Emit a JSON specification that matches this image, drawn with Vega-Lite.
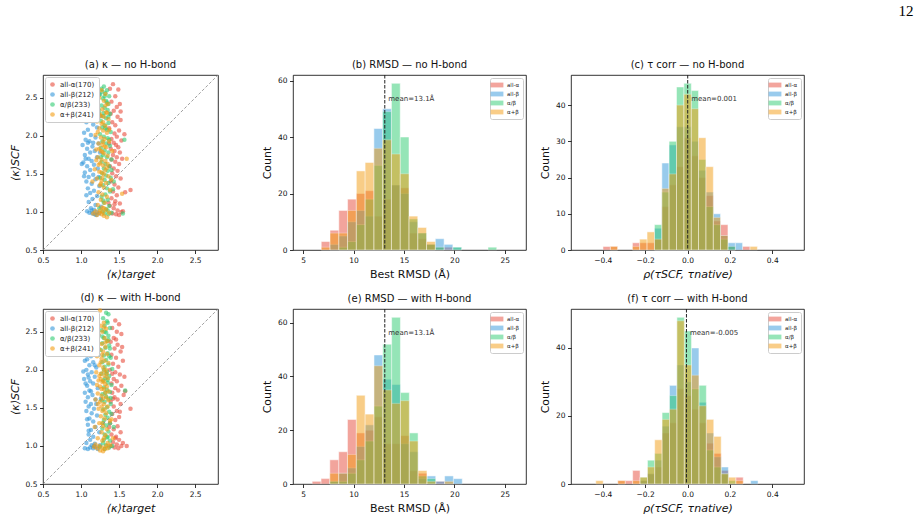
{
  "$schema": "https://vega.github.io/schema/vega-lite/v6.json",
  "padding": {"left": 8, "top": 4, "right": 5, "bottom": 3},
  "title": {"text": "12", "anchor": "end", "font": "Liberation Serif", "fontSize": 15, "fontWeight": "normal", "color": "black", "dx": 109, "offset": 40},
  "config": {
    "font": "DejaVu Sans",
    "background": "white",
    "view": {"stroke": "black", "strokeWidth": 0.8},
    "axis": {"grid": false, "domain": false, "tickColor": "black", "tickWidth": 0.8, "tickSize": 3.5, "labelFont": "DejaVu Sans", "labelFontSize": 7.5, "labelColor": "#111", "labelPadding": 2.5, "labelFlush": false, "labelOverlap": false, "titleFont": "DejaVu Sans", "titleFontSize": 11, "titleFontWeight": "normal", "titleColor": "#111", "titlePadding": 5},
    "title": {"font": "DejaVu Sans", "fontSize": 10, "fontWeight": "normal", "color": "#111", "offset": 5},
    "legend": {"labelFont": "DejaVu Sans", "labelColor": "#222"}
  },
  "datasets": {
    "ar": [{"x":1.42,"y":2.68},{"x":1.38,"y":2.62},{"x":1.49,"y":2.61},{"x":1.45,"y":2.52},{"x":1.4,"y":2.45},{"x":1.51,"y":2.42},{"x":1.47,"y":2.38},{"x":1.43,"y":2.33},{"x":1.39,"y":2.29},{"x":1.48,"y":2.25},{"x":1.52,"y":2.21},{"x":1.41,"y":2.18},{"x":1.45,"y":2.14},{"x":1.37,"y":2.1},{"x":1.5,"y":2.07},{"x":1.44,"y":2.03},{"x":1.47,"y":1.99},{"x":1.4,"y":1.96},{"x":1.53,"y":1.94},{"x":1.43,"y":1.91},{"x":1.46,"y":1.88},{"x":1.49,"y":1.85},{"x":1.39,"y":1.83},{"x":1.44,"y":1.8},{"x":1.51,"y":1.78},{"x":1.42,"y":1.75},{"x":1.47,"y":1.72},{"x":1.4,"y":1.69},{"x":1.45,"y":1.66},{"x":1.5,"y":1.63},{"x":1.38,"y":1.6},{"x":1.43,"y":1.57},{"x":1.48,"y":1.54},{"x":1.41,"y":1.51},{"x":1.46,"y":1.47},{"x":1.52,"y":1.44},{"x":1.39,"y":1.4},{"x":1.44,"y":1.36},{"x":1.49,"y":1.32},{"x":1.65,"y":1.29},{"x":1.42,"y":1.27},{"x":1.47,"y":1.22},{"x":1.4,"y":1.18},{"x":1.45,"y":1.14},{"x":1.51,"y":1.11},{"x":1.38,"y":1.08},{"x":1.43,"y":1.05},{"x":1.48,"y":1.02},{"x":1.53,"y":1.0},{"x":1.41,"y":0.98},{"x":1.46,"y":0.97},{"x":1.5,"y":0.96},{"x":1.55,"y":1.01},{"x":1.36,"y":1.12},{"x":1.57,"y":2.02},{"x":1.54,"y":1.7},{"x":1.58,"y":1.26},{"x":1.37,"y":1.9},{"x":1.52,"y":2.32},{"x":1.44,"y":1.1}],
    "ab": [{"x":1.2,"y":2.66},{"x":1.16,"y":2.6},{"x":1.24,"y":2.55},{"x":1.13,"y":2.5},{"x":1.19,"y":2.46},{"x":1.22,"y":2.41},{"x":1.15,"y":2.37},{"x":1.1,"y":2.33},{"x":1.18,"y":2.3},{"x":1.25,"y":2.26},{"x":1.12,"y":2.22},{"x":1.07,"y":2.18},{"x":1.16,"y":2.15},{"x":1.21,"y":2.11},{"x":1.09,"y":2.08},{"x":1.04,"y":2.04},{"x":1.13,"y":2.01},{"x":1.19,"y":1.98},{"x":1.06,"y":1.95},{"x":1.11,"y":1.93},{"x":1.23,"y":1.9},{"x":1.02,"y":1.88},{"x":1.15,"y":1.86},{"x":1.08,"y":1.83},{"x":1.18,"y":1.8},{"x":1.12,"y":1.78},{"x":1.05,"y":1.75},{"x":1.21,"y":1.72},{"x":1.1,"y":1.7},{"x":1.14,"y":1.67},{"x":1.03,"y":1.65},{"x":1.17,"y":1.62},{"x":1.08,"y":1.6},{"x":1.22,"y":1.57},{"x":1.12,"y":1.55},{"x":1.05,"y":1.52},{"x":1.16,"y":1.49},{"x":1.1,"y":1.46},{"x":1.19,"y":1.43},{"x":1.07,"y":1.4},{"x":1.14,"y":1.37},{"x":1.24,"y":1.34},{"x":1.09,"y":1.31},{"x":1.17,"y":1.28},{"x":1.12,"y":1.25},{"x":1.21,"y":1.21},{"x":1.15,"y":1.17},{"x":1.1,"y":1.13},{"x":1.19,"y":1.09},{"x":1.13,"y":1.05},{"x":1.08,"y":1.01},{"x":1.11,"y":0.99},{"x":1.15,"y":0.98},{"x":1.18,"y":0.97},{"x":1.21,"y":1.0},{"x":1.24,"y":0.98},{"x":1.14,"y":1.02},{"x":1.17,"y":1.03},{"x":1.2,"y":0.96},{"x":1.26,"y":1.07},{"x":1.01,"y":1.63},{"x":1.04,"y":1.47},{"x":1.06,"y":1.7},{"x":1.09,"y":1.91},{"x":1.13,"y":2.4},{"x":1.18,"y":2.52},{"x":1.23,"y":1.46},{"x":1.25,"y":1.78},{"x":1.07,"y":1.22},{"x":1.16,"y":1.91}],
    "ag": [{"x":1.3,"y":2.65},{"x":1.27,"y":2.62},{"x":1.34,"y":2.6},{"x":1.32,"y":2.56},{"x":1.25,"y":2.54},{"x":1.37,"y":2.52},{"x":1.29,"y":2.49},{"x":1.33,"y":2.46},{"x":1.36,"y":2.42},{"x":1.27,"y":2.4},{"x":1.31,"y":2.37},{"x":1.35,"y":2.34},{"x":1.24,"y":2.31},{"x":1.38,"y":2.29},{"x":1.29,"y":2.26},{"x":1.33,"y":2.23},{"x":1.26,"y":2.2},{"x":1.36,"y":2.17},{"x":1.31,"y":2.14},{"x":1.28,"y":2.11},{"x":1.34,"y":2.08},{"x":1.39,"y":2.05},{"x":1.25,"y":2.02},{"x":1.3,"y":1.99},{"x":1.35,"y":1.97},{"x":1.57,"y":1.95},{"x":1.28,"y":1.93},{"x":1.33,"y":1.9},{"x":1.38,"y":1.87},{"x":1.26,"y":1.84},{"x":1.31,"y":1.81},{"x":1.36,"y":1.78},{"x":1.29,"y":1.75},{"x":1.34,"y":1.72},{"x":1.4,"y":1.69},{"x":1.27,"y":1.66},{"x":1.32,"y":1.63},{"x":1.37,"y":1.6},{"x":1.3,"y":1.57},{"x":1.35,"y":1.54},{"x":1.28,"y":1.51},{"x":1.33,"y":1.48},{"x":1.39,"y":1.45},{"x":1.31,"y":1.42},{"x":1.36,"y":1.38},{"x":1.29,"y":1.35},{"x":1.34,"y":1.31},{"x":1.38,"y":1.27},{"x":1.32,"y":1.23},{"x":1.27,"y":1.2},{"x":1.35,"y":1.16},{"x":1.3,"y":1.12},{"x":1.37,"y":1.08},{"x":1.33,"y":1.04},{"x":1.28,"y":1.01},{"x":1.31,"y":0.98},{"x":1.36,"y":0.97},{"x":1.4,"y":0.99},{"x":1.55,"y":0.98},{"x":1.25,"y":1.45},{"x":1.42,"y":1.3},{"x":1.23,"y":2.35},{"x":1.3,"y":2.3},{"x":1.34,"y":2.44},{"x":1.28,"y":2.58},{"x":1.32,"y":2.1},{"x":1.37,"y":1.95},{"x":1.26,"y":1.72},{"x":1.4,"y":1.55},{"x":1.43,"y":1.4},{"x":1.29,"y":1.15},{"x":1.35,"y":1.02},{"x":1.24,"y":1.05},{"x":1.31,"y":2.52},{"x":1.36,"y":2.25}],
    "ao": [{"x":1.27,"y":2.6},{"x":1.32,"y":2.55},{"x":1.24,"y":2.5},{"x":1.3,"y":2.46},{"x":1.35,"y":2.42},{"x":1.22,"y":2.38},{"x":1.28,"y":2.35},{"x":1.33,"y":2.31},{"x":1.25,"y":2.28},{"x":1.3,"y":2.25},{"x":1.36,"y":2.22},{"x":1.21,"y":2.19},{"x":1.27,"y":2.16},{"x":1.32,"y":2.13},{"x":1.24,"y":2.1},{"x":1.29,"y":2.07},{"x":1.34,"y":2.04},{"x":1.19,"y":2.01},{"x":1.26,"y":1.98},{"x":1.31,"y":1.96},{"x":1.37,"y":1.93},{"x":1.23,"y":1.9},{"x":1.28,"y":1.88},{"x":1.33,"y":1.85},{"x":1.2,"y":1.82},{"x":1.26,"y":1.8},{"x":1.3,"y":1.77},{"x":1.35,"y":1.74},{"x":1.22,"y":1.72},{"x":1.27,"y":1.69},{"x":1.32,"y":1.67},{"x":1.6,"y":1.7},{"x":1.25,"y":1.64},{"x":1.29,"y":1.61},{"x":1.34,"y":1.58},{"x":1.18,"y":1.56},{"x":1.24,"y":1.53},{"x":1.3,"y":1.5},{"x":1.36,"y":1.47},{"x":1.21,"y":1.44},{"x":1.27,"y":1.41},{"x":1.33,"y":1.38},{"x":1.25,"y":1.35},{"x":1.3,"y":1.32},{"x":1.38,"y":1.29},{"x":1.23,"y":1.26},{"x":1.28,"y":1.23},{"x":1.54,"y":1.24},{"x":1.34,"y":1.2},{"x":1.26,"y":1.16},{"x":1.31,"y":1.12},{"x":1.22,"y":1.09},{"x":1.28,"y":1.06},{"x":1.33,"y":1.03},{"x":1.19,"y":1.01},{"x":1.24,"y":0.99},{"x":1.27,"y":0.97},{"x":1.3,"y":0.95},{"x":1.34,"y":0.93},{"x":1.21,"y":0.96},{"x":1.37,"y":0.99},{"x":1.25,"y":1.02},{"x":1.29,"y":1.0},{"x":1.16,"y":0.98},{"x":1.32,"y":2.4},{"x":1.26,"y":2.26},{"x":1.29,"y":1.92},{"x":1.24,"y":1.83},{"x":1.31,"y":1.86},{"x":1.28,"y":1.79},{"x":1.23,"y":1.62},{"x":1.32,"y":1.55},{"x":1.27,"y":1.52},{"x":1.35,"y":1.63},{"x":1.2,"y":1.68},{"x":1.29,"y":2.18},{"x":1.34,"y":2.3},{"x":1.22,"y":2.05},{"x":1.37,"y":2.08},{"x":1.28,"y":1.45},{"x":1.26,"y":1.37},{"x":1.4,"y":1.42},{"x":1.3,"y":1.05},{"x":1.15,"y":1.4},{"x":1.41,"y":1.8}],
    "dr": [{"x":1.45,"y":2.65},{"x":1.5,"y":2.6},{"x":1.41,"y":2.55},{"x":1.47,"y":2.5},{"x":1.53,"y":2.47},{"x":1.43,"y":2.42},{"x":1.39,"y":2.37},{"x":1.48,"y":2.33},{"x":1.44,"y":2.28},{"x":1.52,"y":2.24},{"x":1.4,"y":2.2},{"x":1.46,"y":2.16},{"x":1.55,"y":2.12},{"x":1.42,"y":2.08},{"x":1.49,"y":2.04},{"x":1.38,"y":2.0},{"x":1.45,"y":1.97},{"x":1.51,"y":1.94},{"x":1.57,"y":1.91},{"x":1.43,"y":1.88},{"x":1.47,"y":1.85},{"x":1.4,"y":1.82},{"x":1.53,"y":1.79},{"x":1.45,"y":1.76},{"x":1.49,"y":1.73},{"x":1.41,"y":1.7},{"x":1.56,"y":1.67},{"x":1.44,"y":1.64},{"x":1.48,"y":1.61},{"x":1.39,"y":1.58},{"x":1.52,"y":1.55},{"x":1.65,"y":1.49},{"x":1.43,"y":1.52},{"x":1.47,"y":1.46},{"x":1.41,"y":1.42},{"x":1.5,"y":1.38},{"x":1.45,"y":1.34},{"x":1.38,"y":1.3},{"x":1.48,"y":1.26},{"x":1.43,"y":1.22},{"x":1.52,"y":1.18},{"x":1.4,"y":1.15},{"x":1.46,"y":1.12},{"x":1.5,"y":1.08},{"x":1.42,"y":1.05},{"x":1.47,"y":1.02},{"x":1.53,"y":1.0},{"x":1.6,"y":1.0},{"x":1.44,"y":0.98},{"x":1.49,"y":0.97},{"x":1.39,"y":1.0},{"x":1.55,"y":1.04},{"x":1.41,"y":1.95},{"x":1.54,"y":2.3},{"x":1.46,"y":2.4},{"x":1.58,"y":1.72},{"x":1.37,"y":1.25},{"x":1.51,"y":1.45},{"x":1.45,"y":1.1},{"x":1.42,"y":1.62}],
    "db": [{"x":1.17,"y":2.66},{"x":1.21,"y":2.6},{"x":1.14,"y":2.55},{"x":1.19,"y":2.5},{"x":1.23,"y":2.46},{"x":1.12,"y":2.42},{"x":1.17,"y":2.38},{"x":1.21,"y":2.34},{"x":1.15,"y":2.3},{"x":1.1,"y":2.26},{"x":1.19,"y":2.22},{"x":1.13,"y":2.18},{"x":1.08,"y":2.14},{"x":1.05,"y":2.12},{"x":1.16,"y":2.1},{"x":1.11,"y":2.06},{"x":1.2,"y":2.03},{"x":1.07,"y":2.0},{"x":1.14,"y":1.97},{"x":1.09,"y":1.94},{"x":1.18,"y":1.91},{"x":1.04,"y":1.88},{"x":1.12,"y":1.85},{"x":1.16,"y":1.82},{"x":1.08,"y":1.79},{"x":1.22,"y":1.76},{"x":1.11,"y":1.73},{"x":1.05,"y":1.7},{"x":1.15,"y":1.67},{"x":1.09,"y":1.64},{"x":1.19,"y":1.61},{"x":1.06,"y":1.58},{"x":1.13,"y":1.55},{"x":1.1,"y":1.52},{"x":1.17,"y":1.49},{"x":1.07,"y":1.46},{"x":1.14,"y":1.43},{"x":1.21,"y":1.4},{"x":1.11,"y":1.36},{"x":1.16,"y":1.32},{"x":1.09,"y":1.28},{"x":1.19,"y":1.25},{"x":1.13,"y":1.21},{"x":1.24,"y":1.18},{"x":1.1,"y":1.15},{"x":1.16,"y":1.12},{"x":1.12,"y":1.08},{"x":1.07,"y":1.04},{"x":1.14,"y":1.01},{"x":1.05,"y":0.97},{"x":1.09,"y":0.96},{"x":1.12,"y":0.98},{"x":1.16,"y":0.97},{"x":1.19,"y":0.99},{"x":1.22,"y":0.96},{"x":1.25,"y":1.01},{"x":1.18,"y":1.03},{"x":1.1,"y":1.2},{"x":1.13,"y":1.72},{"x":1.06,"y":1.82},{"x":1.18,"y":2.06},{"x":1.1,"y":1.9},{"x":1.2,"y":1.55},{"x":1.15,"y":2.45},{"x":1.23,"y":2.2},{"x":1.08,"y":1.35},{"x":1.26,"y":1.62},{"x":1.03,"y":1.98},{"x":1.12,"y":2.28},{"x":1.17,"y":1.0}],
    "dg": [{"x":1.33,"y":2.75},{"x":1.36,"y":2.73},{"x":1.29,"y":2.68},{"x":1.35,"y":2.62},{"x":1.31,"y":2.58},{"x":1.38,"y":2.55},{"x":1.27,"y":2.52},{"x":1.33,"y":2.49},{"x":1.36,"y":2.45},{"x":1.3,"y":2.42},{"x":1.34,"y":2.38},{"x":1.28,"y":2.35},{"x":1.37,"y":2.32},{"x":1.32,"y":2.29},{"x":1.26,"y":2.26},{"x":1.35,"y":2.22},{"x":1.3,"y":2.19},{"x":1.39,"y":2.16},{"x":1.33,"y":2.13},{"x":1.28,"y":2.1},{"x":1.36,"y":2.07},{"x":1.31,"y":2.04},{"x":1.41,"y":2.01},{"x":1.34,"y":1.98},{"x":1.27,"y":1.95},{"x":1.37,"y":1.92},{"x":1.32,"y":1.89},{"x":1.29,"y":1.86},{"x":1.35,"y":1.83},{"x":1.4,"y":1.8},{"x":1.3,"y":1.77},{"x":1.58,"y":1.73},{"x":1.34,"y":1.74},{"x":1.38,"y":1.71},{"x":1.28,"y":1.68},{"x":1.33,"y":1.65},{"x":1.36,"y":1.62},{"x":1.31,"y":1.58},{"x":1.39,"y":1.55},{"x":1.34,"y":1.51},{"x":1.29,"y":1.48},{"x":1.37,"y":1.45},{"x":1.32,"y":1.41},{"x":1.35,"y":1.37},{"x":1.3,"y":1.34},{"x":1.38,"y":1.3},{"x":1.33,"y":1.27},{"x":1.28,"y":1.23},{"x":1.36,"y":1.19},{"x":1.31,"y":1.15},{"x":1.34,"y":1.11},{"x":1.38,"y":1.07},{"x":1.29,"y":1.04},{"x":1.33,"y":1.01},{"x":1.37,"y":0.98},{"x":1.31,"y":0.96},{"x":1.41,"y":1.0},{"x":1.25,"y":0.99},{"x":1.36,"y":2.4},{"x":1.31,"y":2.5},{"x":1.38,"y":2.28},{"x":1.3,"y":2.0},{"x":1.35,"y":1.87},{"x":1.32,"y":1.7},{"x":1.27,"y":1.6},{"x":1.4,"y":1.42},{"x":1.29,"y":1.3},{"x":1.43,"y":1.25},{"x":1.35,"y":1.12},{"x":1.3,"y":1.08},{"x":1.34,"y":2.64},{"x":1.28,"y":2.44},{"x":1.37,"y":2.18},{"x":1.33,"y":1.95},{"x":1.39,"y":1.63}],
    "do": [{"x":1.25,"y":2.78},{"x":1.3,"y":2.62},{"x":1.26,"y":2.58},{"x":1.33,"y":2.54},{"x":1.28,"y":2.5},{"x":1.23,"y":2.46},{"x":1.31,"y":2.42},{"x":1.35,"y":2.38},{"x":1.27,"y":2.34},{"x":1.32,"y":2.3},{"x":1.24,"y":2.27},{"x":1.29,"y":2.24},{"x":1.34,"y":2.21},{"x":1.21,"y":2.18},{"x":1.27,"y":2.15},{"x":1.31,"y":2.12},{"x":1.36,"y":2.09},{"x":1.24,"y":2.06},{"x":1.29,"y":2.03},{"x":1.33,"y":2.0},{"x":1.2,"y":1.97},{"x":1.26,"y":1.95},{"x":1.31,"y":1.92},{"x":1.35,"y":1.89},{"x":1.23,"y":1.86},{"x":1.28,"y":1.84},{"x":1.32,"y":1.81},{"x":1.25,"y":1.78},{"x":1.3,"y":1.75},{"x":1.36,"y":1.72},{"x":1.22,"y":1.69},{"x":1.27,"y":1.66},{"x":1.33,"y":1.64},{"x":1.19,"y":1.61},{"x":1.25,"y":1.58},{"x":1.3,"y":1.55},{"x":1.35,"y":1.52},{"x":1.23,"y":1.49},{"x":1.28,"y":1.46},{"x":1.33,"y":1.43},{"x":1.26,"y":1.39},{"x":1.31,"y":1.36},{"x":1.38,"y":1.33},{"x":1.24,"y":1.3},{"x":1.29,"y":1.26},{"x":1.34,"y":1.22},{"x":1.27,"y":1.18},{"x":1.32,"y":1.14},{"x":1.22,"y":1.1},{"x":1.28,"y":1.07},{"x":1.35,"y":1.04},{"x":1.19,"y":1.02},{"x":1.24,"y":1.0},{"x":1.28,"y":0.98},{"x":1.31,"y":0.96},{"x":1.25,"y":0.94},{"x":1.35,"y":0.97},{"x":1.21,"y":0.97},{"x":1.29,"y":0.93},{"x":1.33,"y":1.0},{"x":1.38,"y":1.01},{"x":1.17,"y":0.99},{"x":1.3,"y":2.56},{"x":1.28,"y":2.2},{"x":1.26,"y":1.88},{"x":1.3,"y":1.98},{"x":1.24,"y":1.92},{"x":1.32,"y":1.7},{"x":1.29,"y":1.62},{"x":1.27,"y":1.52},{"x":1.21,"y":1.8},{"x":1.34,"y":1.95},{"x":1.3,"y":1.85},{"x":1.26,"y":2.1},{"x":1.32,"y":2.36},{"x":1.22,"y":1.55},{"x":1.36,"y":1.6},{"x":1.28,"y":1.3},{"x":1.31,"y":1.48},{"x":1.4,"y":1.35},{"x":1.42,"y":1.1},{"x":1.18,"y":1.25},{"x":1.3,"y":1.1},{"x":1.27,"y":1.75},{"x":1.34,"y":1.78}],
    "hb": [
      {"c":"all-α","l":6.8,"h":7.67,"n":3},{"c":"all-α","l":7.67,"h":8.54,"n":7},{"c":"all-α","l":8.54,"h":9.41,"n":14},{"c":"all-α","l":9.41,"h":10.28,"n":18},{"c":"all-α","l":10.28,"h":11.15,"n":20},{"c":"all-α","l":11.15,"h":12.02,"n":21},{"c":"all-α","l":12.02,"h":12.89,"n":12},{"c":"all-α","l":12.89,"h":13.76,"n":18},{"c":"all-α","l":13.76,"h":14.63,"n":23},{"c":"all-α","l":14.63,"h":15.5,"n":22},{"c":"all-α","l":15.5,"h":16.37,"n":6},{"c":"all-α","l":16.37,"h":17.24,"n":4},{"c":"all-α","l":17.24,"h":18.11,"n":2},{"c":"all-α","l":18.11,"h":18.98,"n":1},{"c":"all-α","l":18.98,"h":19.85,"n":1},
      {"c":"all-β","l":7.67,"h":8.54,"n":2},{"c":"all-β","l":8.54,"h":9.41,"n":5},{"c":"all-β","l":9.41,"h":10.28,"n":10},{"c":"all-β","l":10.28,"h":11.15,"n":14},{"c":"all-β","l":11.15,"h":12.02,"n":12},{"c":"all-β","l":12.02,"h":12.89,"n":43},{"c":"all-β","l":12.89,"h":13.76,"n":50},{"c":"all-β","l":13.76,"h":14.63,"n":23},{"c":"all-β","l":14.63,"h":15.5,"n":20},{"c":"all-β","l":15.5,"h":16.37,"n":10},{"c":"all-β","l":16.37,"h":17.24,"n":6},{"c":"all-β","l":17.24,"h":18.11,"n":2},{"c":"all-β","l":18.11,"h":18.98,"n":4},{"c":"all-β","l":18.98,"h":19.85,"n":2},{"c":"all-β","l":19.85,"h":20.72,"n":1},
      {"c":"α/β","l":8.54,"h":9.41,"n":1},{"c":"α/β","l":9.41,"h":10.28,"n":3},{"c":"α/β","l":10.28,"h":11.15,"n":9},{"c":"α/β","l":11.15,"h":12.02,"n":18},{"c":"α/β","l":12.02,"h":12.89,"n":30},{"c":"α/β","l":12.89,"h":13.76,"n":49},{"c":"α/β","l":13.76,"h":14.63,"n":59},{"c":"α/β","l":14.63,"h":15.5,"n":40},{"c":"α/β","l":15.5,"h":16.37,"n":11},{"c":"α/β","l":16.37,"h":17.24,"n":6},{"c":"α/β","l":17.24,"h":18.11,"n":2},{"c":"α/β","l":18.11,"h":18.98,"n":1},{"c":"α/β","l":19.85,"h":20.72,"n":1},{"c":"α/β","l":23.33,"h":24.2,"n":1},
      {"c":"α+β","l":6.8,"h":7.67,"n":1},{"c":"α+β","l":7.67,"h":8.54,"n":6},{"c":"α+β","l":8.54,"h":9.41,"n":6},{"c":"α+β","l":9.41,"h":10.28,"n":14},{"c":"α+β","l":10.28,"h":11.15,"n":28},{"c":"α+β","l":11.15,"h":12.02,"n":31},{"c":"α+β","l":12.02,"h":12.89,"n":36},{"c":"α+β","l":12.89,"h":13.76,"n":39},{"c":"α+β","l":13.76,"h":14.63,"n":34},{"c":"α+β","l":14.63,"h":15.5,"n":27},{"c":"α+β","l":15.5,"h":16.37,"n":12},{"c":"α+β","l":16.37,"h":17.24,"n":8},{"c":"α+β","l":17.24,"h":18.11,"n":3}
    ],
    "hc": [
      {"c":"all-α","l":-0.399,"h":-0.364,"n":1},{"c":"all-α","l":-0.364,"h":-0.33,"n":1},{"c":"all-α","l":-0.26,"h":-0.226,"n":2},{"c":"all-α","l":-0.226,"h":-0.191,"n":2},{"c":"all-α","l":-0.191,"h":-0.156,"n":2},{"c":"all-α","l":-0.156,"h":-0.121,"n":3},{"c":"all-α","l":-0.121,"h":-0.087,"n":12},{"c":"all-α","l":-0.087,"h":-0.052,"n":18},{"c":"all-α","l":-0.052,"h":-0.017,"n":23},{"c":"all-α","l":-0.017,"h":0.018,"n":31},{"c":"all-α","l":0.018,"h":0.052,"n":26},{"c":"all-α","l":0.052,"h":0.087,"n":20},{"c":"all-α","l":0.087,"h":0.122,"n":15},{"c":"all-α","l":0.122,"h":0.156,"n":8},{"c":"all-α","l":0.156,"h":0.191,"n":7},{"c":"all-α","l":0.191,"h":0.226,"n":1},{"c":"all-α","l":0.26,"h":0.295,"n":1},
      {"c":"all-β","l":-0.156,"h":-0.121,"n":6},{"c":"all-β","l":-0.121,"h":-0.087,"n":24},{"c":"all-β","l":-0.087,"h":-0.052,"n":29},{"c":"all-β","l":-0.052,"h":-0.017,"n":34},{"c":"all-β","l":-0.017,"h":0.018,"n":34},{"c":"all-β","l":0.018,"h":0.052,"n":30},{"c":"all-β","l":0.052,"h":0.087,"n":22},{"c":"all-β","l":0.087,"h":0.122,"n":16},{"c":"all-β","l":0.122,"h":0.156,"n":10},{"c":"all-β","l":0.156,"h":0.191,"n":4},{"c":"all-β","l":0.191,"h":0.226,"n":2},{"c":"all-β","l":0.226,"h":0.26,"n":2},
      {"c":"α/β","l":-0.156,"h":-0.121,"n":7},{"c":"α/β","l":-0.121,"h":-0.087,"n":16},{"c":"α/β","l":-0.087,"h":-0.052,"n":30},{"c":"α/β","l":-0.052,"h":-0.017,"n":45},{"c":"α/β","l":-0.017,"h":0.018,"n":46},{"c":"α/β","l":0.018,"h":0.052,"n":44},{"c":"α/β","l":0.052,"h":0.087,"n":25},{"c":"α/β","l":0.087,"h":0.122,"n":12},{"c":"α/β","l":0.122,"h":0.156,"n":7},{"c":"α/β","l":0.156,"h":0.191,"n":3},{"c":"α/β","l":0.191,"h":0.226,"n":1},
      {"c":"α+β","l":-0.364,"h":-0.33,"n":1},{"c":"α+β","l":-0.26,"h":-0.226,"n":1},{"c":"α+β","l":-0.226,"h":-0.191,"n":3},{"c":"α+β","l":-0.191,"h":-0.156,"n":5},{"c":"α+β","l":-0.156,"h":-0.121,"n":3},{"c":"α+β","l":-0.121,"h":-0.087,"n":17},{"c":"α+β","l":-0.087,"h":-0.052,"n":21},{"c":"α+β","l":-0.052,"h":-0.017,"n":40},{"c":"α+β","l":-0.017,"h":0.018,"n":43},{"c":"α+β","l":0.018,"h":0.052,"n":39},{"c":"α+β","l":0.052,"h":0.087,"n":31},{"c":"α+β","l":0.087,"h":0.122,"n":23},{"c":"α+β","l":0.122,"h":0.156,"n":9},{"c":"α+β","l":0.156,"h":0.191,"n":4},{"c":"α+β","l":0.295,"h":0.33,"n":1}
    ],
    "he": [
      {"c":"all-α","l":5.9,"h":6.78,"n":1},{"c":"all-α","l":6.78,"h":7.65,"n":2},{"c":"all-α","l":7.65,"h":8.53,"n":9},{"c":"all-α","l":8.53,"h":9.4,"n":12},{"c":"all-α","l":9.4,"h":10.28,"n":24},{"c":"all-α","l":10.28,"h":11.15,"n":19},{"c":"all-α","l":11.15,"h":12.03,"n":20},{"c":"all-α","l":12.03,"h":12.9,"n":25},{"c":"all-α","l":12.9,"h":13.78,"n":15},{"c":"all-α","l":13.78,"h":14.65,"n":15},{"c":"all-α","l":14.65,"h":15.53,"n":18},{"c":"all-α","l":15.53,"h":16.4,"n":5},{"c":"all-α","l":16.4,"h":17.28,"n":4},{"c":"all-α","l":18.15,"h":19.03,"n":1},
      {"c":"all-β","l":7.65,"h":8.53,"n":1},{"c":"all-β","l":8.53,"h":9.4,"n":4},{"c":"all-β","l":9.4,"h":10.28,"n":6},{"c":"all-β","l":10.28,"h":11.15,"n":14},{"c":"all-β","l":11.15,"h":12.03,"n":22},{"c":"all-β","l":12.03,"h":12.9,"n":48},{"c":"all-β","l":12.9,"h":13.78,"n":39},{"c":"all-β","l":13.78,"h":14.65,"n":37},{"c":"all-β","l":14.65,"h":15.53,"n":15},{"c":"all-β","l":15.53,"h":16.4,"n":12},{"c":"all-β","l":16.4,"h":17.28,"n":2},{"c":"all-β","l":17.28,"h":18.15,"n":3},{"c":"all-β","l":18.15,"h":19.03,"n":1},{"c":"all-β","l":19.03,"h":19.9,"n":3},{"c":"all-β","l":19.9,"h":20.78,"n":2},
      {"c":"α/β","l":7.65,"h":8.53,"n":1},{"c":"α/β","l":8.53,"h":9.4,"n":1},{"c":"α/β","l":9.4,"h":10.28,"n":4},{"c":"α/β","l":10.28,"h":11.15,"n":9},{"c":"α/β","l":11.15,"h":12.03,"n":16},{"c":"α/β","l":12.03,"h":12.9,"n":29},{"c":"α/β","l":12.9,"h":13.78,"n":52},{"c":"α/β","l":13.78,"h":14.65,"n":62},{"c":"α/β","l":14.65,"h":15.53,"n":34},{"c":"α/β","l":15.53,"h":16.4,"n":19},{"c":"α/β","l":16.4,"h":17.28,"n":3},{"c":"α/β","l":17.28,"h":18.15,"n":2},
      {"c":"α+β","l":7.65,"h":8.53,"n":4},{"c":"α+β","l":8.53,"h":9.4,"n":4},{"c":"α+β","l":9.4,"h":10.28,"n":11},{"c":"α+β","l":10.28,"h":11.15,"n":33},{"c":"α+β","l":11.15,"h":12.03,"n":26},{"c":"α+β","l":12.03,"h":12.9,"n":44},{"c":"α+β","l":12.9,"h":13.78,"n":35},{"c":"α+β","l":13.78,"h":14.65,"n":30},{"c":"α+β","l":14.65,"h":15.53,"n":31},{"c":"α+β","l":15.53,"h":16.4,"n":16},{"c":"α+β","l":16.4,"h":17.28,"n":5},{"c":"α+β","l":17.28,"h":18.15,"n":1},{"c":"α+β","l":19.03,"h":19.9,"n":1}
    ],
    "hf": [
      {"c":"all-α","l":-0.329,"h":-0.294,"n":1},{"c":"all-α","l":-0.294,"h":-0.259,"n":1},{"c":"all-α","l":-0.259,"h":-0.224,"n":4},{"c":"all-α","l":-0.224,"h":-0.189,"n":1},{"c":"all-α","l":-0.189,"h":-0.155,"n":3},{"c":"all-α","l":-0.155,"h":-0.12,"n":5},{"c":"all-α","l":-0.12,"h":-0.085,"n":15},{"c":"all-α","l":-0.085,"h":-0.05,"n":18},{"c":"all-α","l":-0.05,"h":-0.015,"n":28},{"c":"all-α","l":-0.015,"h":0.019,"n":26},{"c":"all-α","l":0.019,"h":0.054,"n":22},{"c":"all-α","l":0.054,"h":0.089,"n":18},{"c":"all-α","l":0.089,"h":0.124,"n":12},{"c":"all-α","l":0.124,"h":0.159,"n":9},{"c":"all-α","l":0.159,"h":0.193,"n":4},{"c":"all-α","l":0.228,"h":0.263,"n":2},
      {"c":"all-β","l":-0.224,"h":-0.189,"n":1},{"c":"all-β","l":-0.189,"h":-0.155,"n":3},{"c":"all-β","l":-0.155,"h":-0.12,"n":7},{"c":"all-β","l":-0.12,"h":-0.085,"n":17},{"c":"all-β","l":-0.085,"h":-0.05,"n":29},{"c":"all-β","l":-0.05,"h":-0.015,"n":35},{"c":"all-β","l":-0.015,"h":0.019,"n":30},{"c":"all-β","l":0.019,"h":0.054,"n":40},{"c":"all-β","l":0.054,"h":0.089,"n":24},{"c":"all-β","l":0.089,"h":0.124,"n":15},{"c":"all-β","l":0.124,"h":0.159,"n":8},{"c":"all-β","l":0.159,"h":0.193,"n":5},{"c":"all-β","l":0.298,"h":0.333,"n":1},
      {"c":"α/β","l":-0.224,"h":-0.189,"n":2},{"c":"α/β","l":-0.189,"h":-0.155,"n":7},{"c":"α/β","l":-0.155,"h":-0.12,"n":9},{"c":"α/β","l":-0.12,"h":-0.085,"n":21},{"c":"α/β","l":-0.085,"h":-0.05,"n":26},{"c":"α/β","l":-0.05,"h":-0.015,"n":49},{"c":"α/β","l":-0.015,"h":0.019,"n":45},{"c":"α/β","l":0.019,"h":0.054,"n":28},{"c":"α/β","l":0.054,"h":0.089,"n":29},{"c":"α/β","l":0.089,"h":0.124,"n":10},{"c":"α/β","l":0.124,"h":0.159,"n":5},{"c":"α/β","l":0.159,"h":0.193,"n":3},{"c":"α/β","l":0.193,"h":0.228,"n":1},
      {"c":"α+β","l":-0.433,"h":-0.398,"n":1},{"c":"α+β","l":-0.329,"h":-0.294,"n":1},{"c":"α+β","l":-0.259,"h":-0.224,"n":1},{"c":"α+β","l":-0.224,"h":-0.189,"n":2},{"c":"α+β","l":-0.189,"h":-0.155,"n":5},{"c":"α+β","l":-0.155,"h":-0.12,"n":13},{"c":"α+β","l":-0.12,"h":-0.085,"n":19},{"c":"α+β","l":-0.085,"h":-0.05,"n":22},{"c":"α+β","l":-0.05,"h":-0.015,"n":48},{"c":"α+β","l":-0.015,"h":0.019,"n":35},{"c":"α+β","l":0.019,"h":0.054,"n":32},{"c":"α+β","l":0.054,"h":0.089,"n":23},{"c":"α+β","l":0.089,"h":0.124,"n":19},{"c":"α+β","l":0.124,"h":0.159,"n":14},{"c":"α+β","l":0.159,"h":0.193,"n":3},{"c":"α+β","l":0.193,"h":0.228,"n":2},{"c":"α+β","l":0.228,"h":0.263,"n":1}
    ]
  },
  "spacing": 12,
  "resolve": {"scale": {"x": "independent", "y": "independent", "color": "independent"}, "legend": {"color": "independent"}},
  "vconcat": [
    {
      "spacing": 42,
      "resolve": {"scale": {"x": "independent", "y": "independent", "color": "independent"}, "legend": {"color": "independent"}},
      "hconcat": [
        {
          "width": 175, "height": 175,
          "title": "(a) κ — no H-bond",
          "encoding": {
            "x": {"field": "x", "type": "quantitative", "scale": {"domain": [0.5, 2.8], "nice": false, "zero": false}, "axis": {"values": [0.5, 1, 1.5, 2, 2.5], "format": ".1f", "title": "⟨κ⟩target", "titleFontStyle": "italic"}},
            "y": {"field": "y", "type": "quantitative", "scale": {"domain": [0.5, 2.8], "nice": false, "zero": false}, "axis": {"values": [0.5, 1, 1.5, 2, 2.5], "format": ".1f", "title": "⟨κ⟩SCF", "titleFontStyle": "italic"}}
          },
          "layer": [
            {"data": {"name": "ar"}, "mark": {"type": "circle", "size": 20, "opacity": 0.6},
             "encoding": {"color": {"datum": "all-α", "type": "nominal", "scale": {"domain": ["all-α", "all-β", "α/β", "α+β"], "range": ["#e74c3c", "#3498db", "#2ecc71", "#f39c12"]},
               "legend": {"title": null, "orient": "top-left", "offset": 2, "symbolType": "circle", "symbolSize": 22, "symbolOpacity": 0.6, "symbolStrokeWidth": 0, "labelFontSize": 7, "labelOffset": 4, "rowPadding": 2, "padding": 4, "strokeColor": "#ccc", "fillColor": "white", "cornerRadius": 2,
                 "labelExpr": "datum.label == 'all-α' ? 'all-α(170)' : datum.label == 'all-β' ? 'all-β(212)' : datum.label == 'α/β' ? 'α/β(233)' : 'α+β(241)'"}}}},
            {"data": {"name": "ab"}, "mark": {"type": "circle", "size": 20, "opacity": 0.6}, "encoding": {"color": {"datum": "all-β", "type": "nominal"}}},
            {"data": {"name": "ag"}, "mark": {"type": "circle", "size": 20, "opacity": 0.6}, "encoding": {"color": {"datum": "α/β", "type": "nominal"}}},
            {"data": {"name": "ao"}, "mark": {"type": "circle", "size": 20, "opacity": 0.6}, "encoding": {"color": {"datum": "α+β", "type": "nominal"}}},
            {"data": {"values": [{"x": 0.5, "y": 0.5, "x2": 2.8, "y2": 2.8}]}, "mark": {"type": "rule", "color": "#888", "strokeDash": [3, 2], "strokeWidth": 0.8}, "encoding": {"x2": {"field": "x2"}, "y2": {"field": "y2"}}}
          ]
        },
        {
          "spacing": 12,
          "resolve": {"scale": {"x": "independent", "y": "independent", "color": "independent"}, "legend": {"color": "independent"}},
          "hconcat": [
            {
              "width": 233, "height": 175,
              "title": "(b) RMSD — no H-bond",
              "layer": [
                {"data": {"name": "hb"}, "mark": {"type": "bar", "opacity": 0.5, "stroke": "white", "strokeWidth": 0.5},
                 "encoding": {
                   "x": {"field": "l", "type": "quantitative", "scale": {"domain": [4, 27.1], "nice": false, "zero": false}, "axis": {"values": [5, 10, 15, 20, 25], "title": "Best RMSD (Å)"}},
                   "x2": {"field": "h"},
                   "y": {"field": "n", "type": "quantitative", "stack": null, "scale": {"domain": [0, 61.95], "nice": false}, "axis": {"values": [0, 10, 20, 30, 40, 50, 60], "title": "Count"}},
                   "y2": {"datum": 0},
                   "color": {"field": "c", "type": "nominal", "scale": {"domain": ["all-α", "all-β", "α/β", "α+β"], "range": ["#e74c3c", "#3498db", "#2ecc71", "#f39c12"]},
                     "legend": {"title": null, "orient": "top-right", "offset": 3, "symbolType": "M-1.6,-0.6H1.6V0.6H-1.6Z", "symbolSize": 64, "symbolOpacity": 0.5, "symbolStrokeWidth": 0, "labelFontSize": 5.5, "labelOffset": 6, "rowPadding": 1, "padding": 3, "strokeColor": "#ccc", "fillColor": "white", "cornerRadius": 2}}}},
                {"data": {"values": [{"m": 13.1, "t": "mean=13.1Å"}]}, "mark": {"type": "rule", "color": "#222", "strokeDash": [3.5, 1.5], "strokeWidth": 1}, "encoding": {"x": {"field": "m", "type": "quantitative"}}},
                {"data": {"values": [{"m": 13.1, "t": "mean=13.1Å"}]}, "mark": {"type": "text", "align": "left", "baseline": "alphabetic", "dx": 3.5, "fontSize": 7, "color": "#333"}, "encoding": {"x": {"field": "m", "type": "quantitative"}, "y": {"datum": 52.6}, "text": {"field": "t"}}}
              ]
            },
            {
              "width": 233, "height": 175,
              "title": "(c) τ corr — no H-bond",
              "layer": [
                {"data": {"name": "hc"}, "mark": {"type": "bar", "opacity": 0.5, "stroke": "white", "strokeWidth": 0.5},
                 "encoding": {
                   "x": {"field": "l", "type": "quantitative", "scale": {"domain": [-0.55, 0.55], "nice": false, "zero": false}, "axis": {"values": [-0.4, -0.2, 0, 0.2, 0.4], "format": ".1f", "title": "ρ(τSCF, τnative)", "titleFontStyle": "italic"}},
                   "x2": {"field": "h"},
                   "y": {"field": "n", "type": "quantitative", "stack": null, "scale": {"domain": [0, 48.3], "nice": false}, "axis": {"values": [0, 10, 20, 30, 40], "title": "Count"}},
                   "y2": {"datum": 0},
                   "color": {"field": "c", "type": "nominal", "scale": {"domain": ["all-α", "all-β", "α/β", "α+β"], "range": ["#e74c3c", "#3498db", "#2ecc71", "#f39c12"]},
                     "legend": {"title": null, "orient": "top-right", "offset": 3, "symbolType": "M-1.6,-0.6H1.6V0.6H-1.6Z", "symbolSize": 64, "symbolOpacity": 0.5, "symbolStrokeWidth": 0, "labelFontSize": 5.5, "labelOffset": 6, "rowPadding": 1, "padding": 3, "strokeColor": "#ccc", "fillColor": "white", "cornerRadius": 2}}}},
                {"data": {"values": [{"m": 0.001, "t": "mean=0.001"}]}, "mark": {"type": "rule", "color": "#222", "strokeDash": [3.5, 1.5], "strokeWidth": 1}, "encoding": {"x": {"field": "m", "type": "quantitative"}}},
                {"data": {"values": [{"m": 0.001, "t": "mean=0.001"}]}, "mark": {"type": "text", "align": "left", "baseline": "alphabetic", "dx": 3.5, "fontSize": 7, "color": "#333"}, "encoding": {"x": {"field": "m", "type": "quantitative"}, "y": {"datum": 41.0}, "text": {"field": "t"}}}
              ]
            }
          ]
        }
      ]
    },
    {
      "spacing": 42,
      "resolve": {"scale": {"x": "independent", "y": "independent", "color": "independent"}, "legend": {"color": "independent"}},
      "hconcat": [
        {
          "width": 175, "height": 175,
          "title": "(d) κ — with H-bond",
          "encoding": {
            "x": {"field": "x", "type": "quantitative", "scale": {"domain": [0.5, 2.8], "nice": false, "zero": false}, "axis": {"values": [0.5, 1, 1.5, 2, 2.5], "format": ".1f", "title": "⟨κ⟩target", "titleFontStyle": "italic"}},
            "y": {"field": "y", "type": "quantitative", "scale": {"domain": [0.5, 2.8], "nice": false, "zero": false}, "axis": {"values": [0.5, 1, 1.5, 2, 2.5], "format": ".1f", "title": "⟨κ⟩SCF", "titleFontStyle": "italic"}}
          },
          "layer": [
            {"data": {"name": "dr"}, "mark": {"type": "circle", "size": 20, "opacity": 0.6},
             "encoding": {"color": {"datum": "all-α", "type": "nominal", "scale": {"domain": ["all-α", "all-β", "α/β", "α+β"], "range": ["#e74c3c", "#3498db", "#2ecc71", "#f39c12"]},
               "legend": {"title": null, "orient": "top-left", "offset": 2, "symbolType": "circle", "symbolSize": 22, "symbolOpacity": 0.6, "symbolStrokeWidth": 0, "labelFontSize": 7, "labelOffset": 4, "rowPadding": 2, "padding": 4, "strokeColor": "#ccc", "fillColor": "white", "cornerRadius": 2,
                 "labelExpr": "datum.label == 'all-α' ? 'all-α(170)' : datum.label == 'all-β' ? 'all-β(212)' : datum.label == 'α/β' ? 'α/β(233)' : 'α+β(241)'"}}}},
            {"data": {"name": "db"}, "mark": {"type": "circle", "size": 20, "opacity": 0.6}, "encoding": {"color": {"datum": "all-β", "type": "nominal"}}},
            {"data": {"name": "dg"}, "mark": {"type": "circle", "size": 20, "opacity": 0.6}, "encoding": {"color": {"datum": "α/β", "type": "nominal"}}},
            {"data": {"name": "do"}, "mark": {"type": "circle", "size": 20, "opacity": 0.6}, "encoding": {"color": {"datum": "α+β", "type": "nominal"}}},
            {"data": {"values": [{"x": 0.5, "y": 0.5, "x2": 2.8, "y2": 2.8}]}, "mark": {"type": "rule", "color": "#888", "strokeDash": [3, 2], "strokeWidth": 0.8}, "encoding": {"x2": {"field": "x2"}, "y2": {"field": "y2"}}}
          ]
        },
        {
          "spacing": 12,
          "resolve": {"scale": {"x": "independent", "y": "independent", "color": "independent"}, "legend": {"color": "independent"}},
          "hconcat": [
            {
              "width": 233, "height": 175,
              "title": "(e) RMSD — with H-bond",
              "layer": [
                {"data": {"name": "he"}, "mark": {"type": "bar", "opacity": 0.5, "stroke": "white", "strokeWidth": 0.5},
                 "encoding": {
                   "x": {"field": "l", "type": "quantitative", "scale": {"domain": [4, 27.1], "nice": false, "zero": false}, "axis": {"values": [5, 10, 15, 20, 25], "title": "Best RMSD (Å)"}},
                   "x2": {"field": "h"},
                   "y": {"field": "n", "type": "quantitative", "stack": null, "scale": {"domain": [0, 65.1], "nice": false}, "axis": {"values": [0, 10, 20, 30, 40, 50, 60], "title": "Count"}},
                   "y2": {"datum": 0},
                   "color": {"field": "c", "type": "nominal", "scale": {"domain": ["all-α", "all-β", "α/β", "α+β"], "range": ["#e74c3c", "#3498db", "#2ecc71", "#f39c12"]},
                     "legend": {"title": null, "orient": "top-right", "offset": 3, "symbolType": "M-1.6,-0.6H1.6V0.6H-1.6Z", "symbolSize": 64, "symbolOpacity": 0.5, "symbolStrokeWidth": 0, "labelFontSize": 5.5, "labelOffset": 6, "rowPadding": 1, "padding": 3, "strokeColor": "#ccc", "fillColor": "white", "cornerRadius": 2}}}},
                {"data": {"values": [{"m": 13.1, "t": "mean=13.1Å"}]}, "mark": {"type": "rule", "color": "#222", "strokeDash": [3.5, 1.5], "strokeWidth": 1}, "encoding": {"x": {"field": "m", "type": "quantitative"}}},
                {"data": {"values": [{"m": 13.1, "t": "mean=13.1Å"}]}, "mark": {"type": "text", "align": "left", "baseline": "alphabetic", "dx": 3.5, "fontSize": 7, "color": "#333"}, "encoding": {"x": {"field": "m", "type": "quantitative"}, "y": {"datum": 55.3}, "text": {"field": "t"}}}
              ]
            },
            {
              "width": 233, "height": 175,
              "title": "(f) τ corr — with H-bond",
              "layer": [
                {"data": {"name": "hf"}, "mark": {"type": "bar", "opacity": 0.5, "stroke": "white", "strokeWidth": 0.5},
                 "encoding": {
                   "x": {"field": "l", "type": "quantitative", "scale": {"domain": [-0.55, 0.55], "nice": false, "zero": false}, "axis": {"values": [-0.4, -0.2, 0, 0.2, 0.4], "format": ".1f", "title": "ρ(τSCF, τnative)", "titleFontStyle": "italic"}},
                   "x2": {"field": "h"},
                   "y": {"field": "n", "type": "quantitative", "stack": null, "scale": {"domain": [0, 51.45], "nice": false}, "axis": {"values": [0, 10, 20, 30, 40, 50], "title": "Count"}},
                   "y2": {"datum": 0},
                   "color": {"field": "c", "type": "nominal", "scale": {"domain": ["all-α", "all-β", "α/β", "α+β"], "range": ["#e74c3c", "#3498db", "#2ecc71", "#f39c12"]},
                     "legend": {"title": null, "orient": "top-right", "offset": 3, "symbolType": "M-1.6,-0.6H1.6V0.6H-1.6Z", "symbolSize": 64, "symbolOpacity": 0.5, "symbolStrokeWidth": 0, "labelFontSize": 5.5, "labelOffset": 6, "rowPadding": 1, "padding": 3, "strokeColor": "#ccc", "fillColor": "white", "cornerRadius": 2}}}},
                {"data": {"values": [{"m": -0.005, "t": "mean=-0.005"}]}, "mark": {"type": "rule", "color": "#222", "strokeDash": [3.5, 1.5], "strokeWidth": 1}, "encoding": {"x": {"field": "m", "type": "quantitative"}}},
                {"data": {"values": [{"m": -0.005, "t": "mean=-0.005"}]}, "mark": {"type": "text", "align": "left", "baseline": "alphabetic", "dx": 3.5, "fontSize": 7, "color": "#333"}, "encoding": {"x": {"field": "m", "type": "quantitative"}, "y": {"datum": 43.7}, "text": {"field": "t"}}}
              ]
            }
          ]
        }
      ]
    }
  ]
}
